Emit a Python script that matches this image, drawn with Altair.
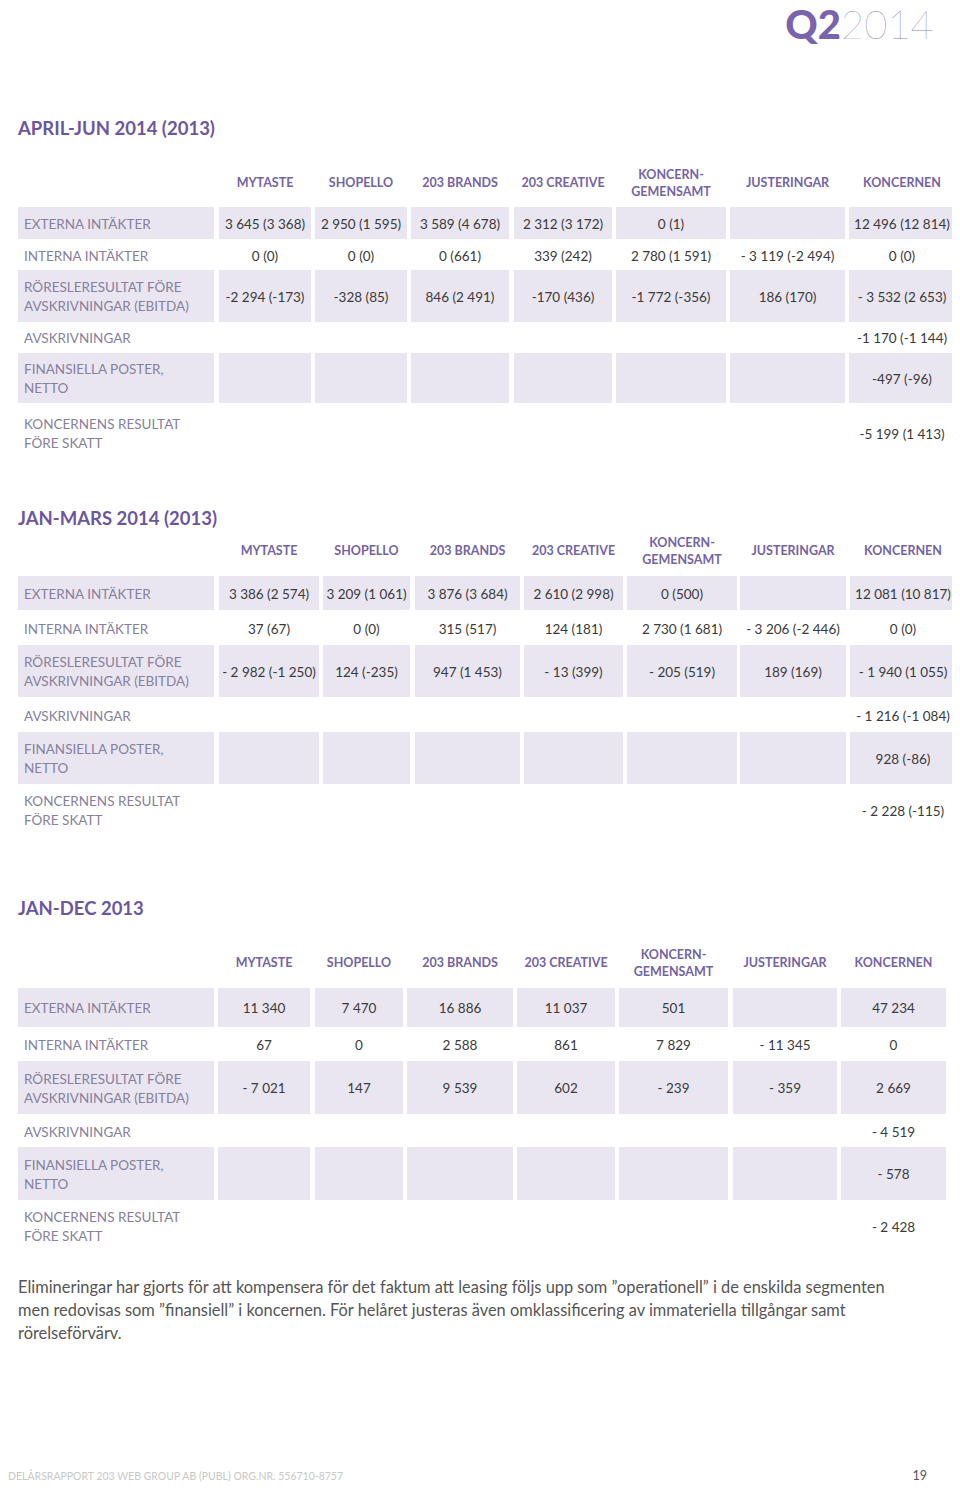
import altair as alt
import pandas as pd

# ---------------- data ----------------
mark_q = "Q2"
mark_year = "2014"

section_titles = ["APRIL-JUN 2014 (2013)", "JAN-MARS 2014 (2013)", "JAN-DEC 2013"]

segments = ["MYTASTE", "SHOPELLO", "203 BRANDS", "203 CREATIVE",
            "KONCERN-\nGEMENSAMT", "JUSTERINGAR", "KONCERNEN"]

row_labels = ["EXTERNA INTÄKTER", "INTERNA INTÄKTER",
              "RÖRESLERESULTAT FÖRE\nAVSKRIVNINGAR (EBITDA)", "AVSKRIVNINGAR",
              "FINANSIELLA POSTER,\nNETTO", "KONCERNENS RESULTAT\nFÖRE SKATT"]

# April-Jun 2014 (2013)
q2_externa = ["3 645 (3 368)", "2 950 (1 595)", "3 589 (4 678)", "2 312 (3 172)", "0 (1)", "", "12 496 (12 814)"]
q2_interna = ["0 (0)", "0 (0)", "0 (661)", "339 (242)", "2 780 (1 591)", "- 3 119 (-2 494)", "0 (0)"]
q2_ebitda = ["-2 294 (-173)", "-328 (85)", "846 (2 491)", "-170 (436)", "-1 772 (-356)", "186 (170)", "- 3 532 (2 653)"]
q2_avskr = ["", "", "", "", "", "", "-1 170 (-1 144)"]
q2_fin = ["", "", "", "", "", "", "-497 (-96)"]
q2_res = ["", "", "", "", "", "", "-5 199 (1 413)"]

# Jan-Mars 2014 (2013)
q1_externa = ["3 386 (2 574)", "3 209 (1 061)", "3 876 (3 684)", "2 610 (2 998)", "0 (500)", "", "12 081 (10 817)"]
q1_interna = ["37 (67)", "0 (0)", "315 (517)", "124 (181)", "2 730 (1 681)", "- 3 206 (-2 446)", "0 (0)"]
q1_ebitda = ["- 2 982 (-1 250)", "124 (-235)", "947 (1 453)", "- 13 (399)", "- 205 (519)", "189 (169)", "- 1 940 (1 055)"]
q1_avskr = ["", "", "", "", "", "", "- 1 216 (-1 084)"]
q1_fin = ["", "", "", "", "", "", "928 (-86)"]
q1_res = ["", "", "", "", "", "", "- 2 228 (-115)"]

# Jan-Dec 2013
fy_externa = ["11 340", "7 470", "16 886", "11 037", "501", "", "47 234"]
fy_interna = ["67", "0", "2 588", "861", "7 829", "- 11 345", "0"]
fy_ebitda = ["- 7 021", "147", "9 539", "602", "- 239", "- 359", "2 669"]
fy_avskr = ["", "", "", "", "", "", "- 4 519"]
fy_fin = ["", "", "", "", "", "", "- 578"]
fy_res = ["", "", "", "", "", "", "- 2 428"]

footnote_lines = [
    "Elimineringar har gjorts för att kompensera för det faktum att leasing följs upp som ”operationell” i de enskilda segmenten",
    "men redovisas som ”finansiell” i koncernen. För helåret justeras även omklassificering av immateriella tillgångar samt",
    "rörelseförvärv.",
]
footer_text = "DELÅRSRAPPORT 203 WEB GROUP AB (PUBL)  ORG.NR. 556710-8757"
page_number = "19"

tables = [
    [q2_externa, q2_interna, q2_ebitda, q2_avskr, q2_fin, q2_res],
    [q1_externa, q1_interna, q1_ebitda, q1_avskr, q1_fin, q1_res],
    [fy_externa, fy_interna, fy_ebitda, fy_avskr, fy_fin, fy_res],
]

# ---------------- layout (page pixels) ----------------
LABEL_X0, LABEL_X1 = 18, 214
col_edges = [
    [(219, 311), (315, 407), (411, 509), (514, 612), (616, 726), (730, 845), (849, 955)],
    [(219, 319), (323, 410), (415, 520), (524, 623), (627, 737), (740, 846), (850, 956)],
    [(218, 310), (315, 403), (407, 513), (517, 615), (619, 728), (733, 837), (841, 946)],
]
title_y = [127, 517, 907]
header_y = [181.5, 549.5, 961.5]
row_y = [[223, 255, 296, 337, 378, 433],
         [593, 628, 671, 715, 758, 810],
         [1007.5, 1044, 1087.5, 1131, 1173.5, 1226]]
row_h = [[32, 0, 52, 0, 50, 0],
         [34, 0, 52, 0, 52, 0],
         [39, 0, 53, 0, 53, 0]]
HEAD_LH = 17
LABEL_LH = 19
TEXT_DY = 1.5

PURPLE_TITLE = "#6c579f"
PURPLE_HEAD = "#7464a4"
LABEL_GREY = "#877f9c"
VALUE_GREY = "#3a3a3a"
CELL_BG = "#e9e6f1"
FONT = "Lato"


def block_y(y, text, lh):
    """Vertical centre of a multi-line block -> y of its first line."""
    n = text.count("\n") + 1
    return y - (n - 1) * lh / 2


# ---------------- build tables ----------------
rects, titles, heads, labels, values = [], [], [], [], []
for t, rows in enumerate(tables):
    titles.append({"x": 18, "y": title_y[t], "text": section_titles[t]})
    for c, seg in enumerate(segments):
        x0, x1 = col_edges[t][c]
        heads.append({"x": (x0 + x1) / 2, "y": block_y(header_y[t], seg, HEAD_LH), "text": seg})
    for r, row in enumerate(rows):
        yc, h = row_y[t][r], row_h[t][r]
        labels.append({"x": 24, "y": block_y(yc, row_labels[r], LABEL_LH), "text": row_labels[r]})
        if h > 0:
            rects.append({"x": LABEL_X0, "x2": LABEL_X1, "y": yc - h / 2, "y2": yc + h / 2})
            for c in range(len(segments)):
                x0, x1 = col_edges[t][c]
                rects.append({"x": x0, "x2": x1, "y": yc - h / 2, "y2": yc + h / 2})
        for c, v in enumerate(row):
            if v:
                x0, x1 = col_edges[t][c]
                values.append({"x": (x0 + x1) / 2, "y": yc, "text": v})

foot = [{"x": 18, "y": 1286 + 23 * i, "text": s} for i, s in enumerate(footnote_lines)]

XS = alt.Scale(domain=[8, 952], nice=False, zero=False)
YS = alt.Scale(domain=[8, 1484], nice=False, zero=False, reverse=True)


def tlayer(rows, **kw):
    return alt.Chart(pd.DataFrame(rows)).mark_text(font=FONT, lineBreak="\n", **kw).encode(
        x=alt.X("x:Q", scale=XS, axis=None),
        y=alt.Y("y:Q", scale=YS, axis=None),
        text="text:N",
    )


rect_layer = alt.Chart(pd.DataFrame(rects)).mark_rect(color=CELL_BG).encode(
    x=alt.X("x:Q", scale=XS, axis=None), x2="x2:Q",
    y=alt.Y("y:Q", scale=YS, axis=None), y2="y2:Q",
)

layers = [
    rect_layer,
    tlayer([{"x": 841, "y": 39, "text": mark_q}], align="right", baseline="alphabetic",
           fontSize=40, fontWeight=900, color="#7a63ad"),
    tlayer([{"x": 841, "y": 39, "text": mark_year}], align="left", baseline="alphabetic",
           fontSize=40, fontWeight=200, color="#8a7fb5"),
    tlayer(titles, align="left", baseline="middle", dy=TEXT_DY, fontSize=18.5, fontWeight="bold",
           color=PURPLE_TITLE),
    tlayer(heads, align="center", baseline="middle", dy=TEXT_DY, fontSize=12.5, fontWeight="bold",
           color=PURPLE_HEAD, lineHeight=HEAD_LH),
    tlayer(labels, align="left", baseline="middle", dy=TEXT_DY, fontSize=13.5, color=LABEL_GREY,
           lineHeight=LABEL_LH),
    tlayer(values, align="center", baseline="middle", dy=TEXT_DY, fontSize=13.5, color=VALUE_GREY),
    tlayer(foot, align="left", baseline="middle", dy=TEXT_DY, fontSize=16.4, color="#555555"),
    tlayer([{"x": 8, "y": 1477, "text": footer_text}], align="left", baseline="middle",
           fontSize=10.5, color="#c8c8c8"),
    tlayer([{"x": 927, "y": 1476, "text": page_number}], align="right", baseline="middle",
           fontSize=12.5, color="#555555"),
]

chart = alt.layer(*layers).properties(
    width=944, height=1476,
    autosize=alt.AutoSizeParams(type="none"),
    padding=0,
).configure_view(stroke=None)

chart.save("out.html", embed_options={"renderer": "svg", "actions": False})
